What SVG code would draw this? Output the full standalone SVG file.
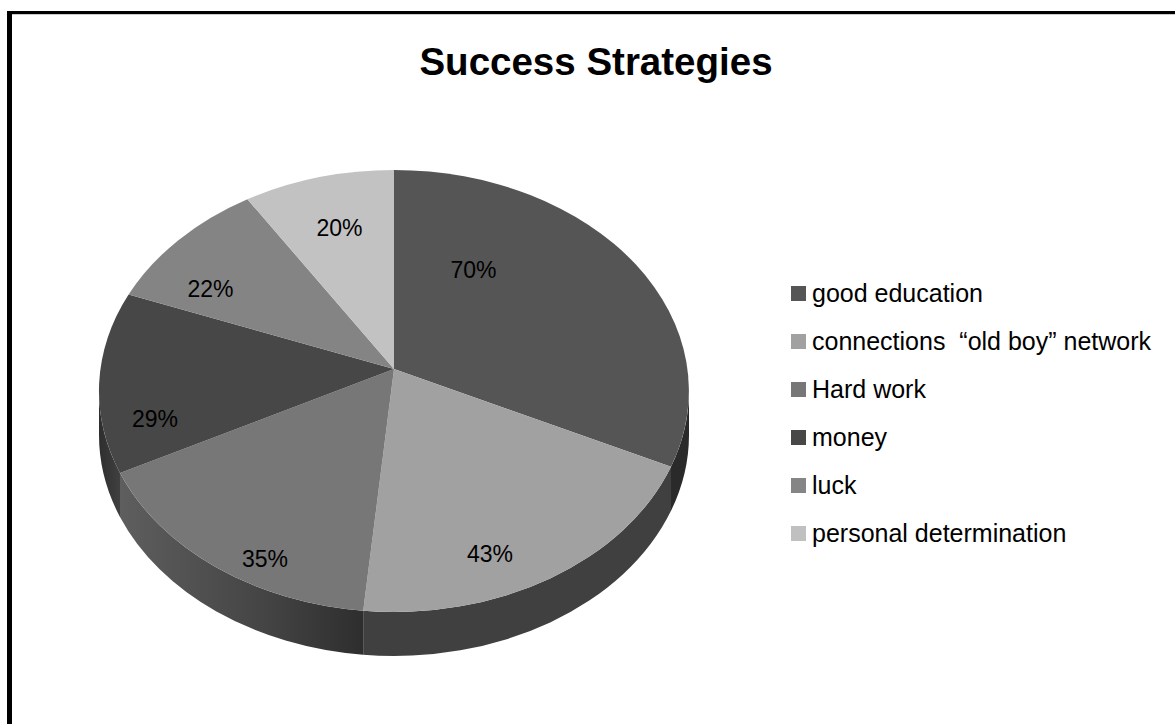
<svg xmlns="http://www.w3.org/2000/svg" width="1175" height="724" viewBox="0 0 1175 724">
<defs>
<style>
.lbl{font-family:"Liberation Sans",Arial,sans-serif;font-size:23px;fill:#000;text-anchor:middle}
.leg{font-family:"Liberation Sans",Arial,sans-serif;font-size:25px;fill:#000;white-space:pre}
.title{font-family:"Liberation Sans",Arial,sans-serif;font-size:38.5px;font-weight:bold;fill:#000;text-anchor:middle}
</style>
<linearGradient id="gHardSide" x1="120" y1="0" x2="363" y2="0" gradientUnits="userSpaceOnUse">
<stop offset="0" stop-color="#5e5e5e"/>
<stop offset="0.6" stop-color="#444444"/>
<stop offset="1" stop-color="#2e2e2e"/>
</linearGradient>
<linearGradient id="gMoneySide" x1="99" y1="0" x2="120" y2="0" gradientUnits="userSpaceOnUse">
<stop offset="0" stop-color="#2e2e2e"/>
<stop offset="1" stop-color="#404040"/>
</linearGradient>
</defs>
<rect x="0" y="0" width="1175" height="724" fill="#ffffff"/>
<g id="frame">
<rect x="7" y="11" width="5" height="713" fill="#000"/>
<rect x="7" y="11" width="1168" height="3" fill="#000"/>
<rect x="12" y="14" width="1163" height="1" fill="#cccccc"/>
</g>
<text class="title" x="596" y="75">Success Strategies</text>
<g id="pie">
<g id="sides">
<path d="M689,391 A295,221 0 0 1 671,466.8 L671,510.8 A295,221 0 0 0 689,435 Z" fill="#2a2a2a"/>
<path d="M671,466.8 A295,221 0 0 1 363.2,610.8 L363.2,654.8 A295,221 0 0 0 671,510.8 Z" fill="#404040"/>
<path d="M363.2,610.8 A295,221 0 0 1 120,473 L120,517 A295,221 0 0 0 363.2,654.8 Z" fill="url(#gHardSide)"/>
<path d="M120,473 A295,221 0 0 1 99,391 L99,435 A295,221 0 0 0 120,517 Z" fill="url(#gMoneySide)"/>
</g>
<g id="slice-good-education">
<path d="M394,369 L394,170 A295,221 0 0 1 671,466.8 Z" fill="#555555"/>
<text class="lbl" x="473.5" y="278">70%</text>
</g>
<g id="slice-connections">
<path d="M394,369 L671,466.8 A295,221 0 0 1 363.2,610.8 Z" fill="#a1a1a1"/>
<text class="lbl" x="490" y="562">43%</text>
</g>
<g id="slice-hard-work">
<path d="M394,369 L363.2,610.8 A295,221 0 0 1 120,473 Z" fill="#777777"/>
<text class="lbl" x="265" y="567">35%</text>
</g>
<g id="slice-money">
<path d="M394,369 L120,473 A295,221 0 0 1 128.6,294.5 Z" fill="#474747"/>
<text class="lbl" x="155" y="427">29%</text>
</g>
<g id="slice-luck">
<path d="M394,369 L128.6,294.5 A295,221 0 0 1 247.4,199.2 Z" fill="#848484"/>
<text class="lbl" x="210.5" y="297">22%</text>
</g>
<g id="slice-personal-determination">
<path d="M394,369 L247.4,199.2 A295,221 0 0 1 394,170 Z" fill="#c2c2c2"/>
<text class="lbl" x="339.5" y="236">20%</text>
</g>
</g>
<g id="legend">
<g id="leg-good-education"><rect x="791" y="286" width="15" height="15" fill="#555555"/><text class="leg" x="812" y="302">good education</text></g>
<g id="leg-connections"><rect x="791" y="334" width="15" height="15" fill="#a1a1a1"/><text class="leg" x="812" y="350">connections  “old boy” network</text></g>
<g id="leg-hard-work"><rect x="791" y="382" width="15" height="15" fill="#777777"/><text class="leg" x="812" y="398">Hard work</text></g>
<g id="leg-money"><rect x="791" y="430" width="15" height="15" fill="#474747"/><text class="leg" x="812" y="446">money</text></g>
<g id="leg-luck"><rect x="791" y="478" width="15" height="15" fill="#858585"/><text class="leg" x="812" y="494">luck</text></g>
<g id="leg-personal-determination"><rect x="791" y="526" width="15" height="15" fill="#c0c0c0"/><text class="leg" x="812" y="542">personal determination</text></g>
</g>
</svg>
